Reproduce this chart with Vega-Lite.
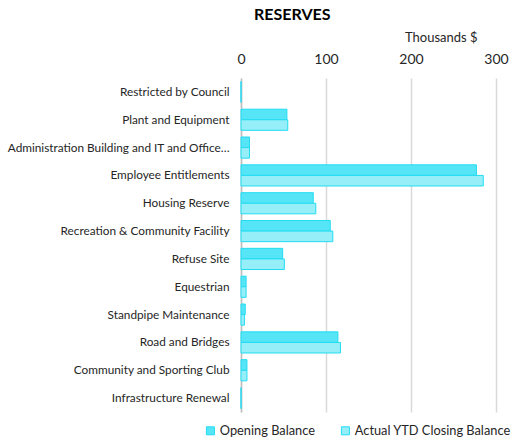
{
  "$schema": "https://vega.github.io/schema/vega-lite/v6.json",
  "width": 255,
  "height": 334,
  "autosize": {"type": "none"},
  "padding": {"left": 241, "top": 78, "right": 27, "bottom": 28},
  "background": "white",
  "title": {
    "text": "RESERVES",
    "anchor": "start",
    "frame": "group",
    "dx": 13,
    "fontSize": 16,
    "font": "Lato",
    "fontWeight": "bold",
    "color": "#000000",
    "offset": 8
  },
  "data": {
    "values": [
      {"category": "Restricted by Council", "series": "Opening  Balance", "value": 0},
      {"category": "Restricted by Council", "series": "Actual YTD Closing Balance", "value": 0},
      {"category": "Plant and Equipment", "series": "Opening  Balance", "value": 54},
      {"category": "Plant and Equipment", "series": "Actual YTD Closing Balance", "value": 55},
      {"category": "Administration Building and IT and Office…", "series": "Opening  Balance", "value": 10},
      {"category": "Administration Building and IT and Office…", "series": "Actual YTD Closing Balance", "value": 10},
      {"category": "Employee Entitlements", "series": "Opening  Balance", "value": 277},
      {"category": "Employee Entitlements", "series": "Actual YTD Closing Balance", "value": 285},
      {"category": "Housing Reserve", "series": "Opening  Balance", "value": 85},
      {"category": "Housing Reserve", "series": "Actual YTD Closing Balance", "value": 88},
      {"category": "Recreation & Community Facility", "series": "Opening  Balance", "value": 105},
      {"category": "Recreation & Community Facility", "series": "Actual YTD Closing Balance", "value": 108},
      {"category": "Refuse Site", "series": "Opening  Balance", "value": 49},
      {"category": "Refuse Site", "series": "Actual YTD Closing Balance", "value": 51},
      {"category": "Equestrian", "series": "Opening  Balance", "value": 6},
      {"category": "Equestrian", "series": "Actual YTD Closing Balance", "value": 6},
      {"category": "Standpipe Maintenance", "series": "Opening  Balance", "value": 5},
      {"category": "Standpipe Maintenance", "series": "Actual YTD Closing Balance", "value": 4},
      {"category": "Road and Bridges", "series": "Opening  Balance", "value": 114},
      {"category": "Road and Bridges", "series": "Actual YTD Closing Balance", "value": 117},
      {"category": "Community and Sporting Club", "series": "Opening  Balance", "value": 7},
      {"category": "Community and Sporting Club", "series": "Actual YTD Closing Balance", "value": 7},
      {"category": "Infrastructure Renewal", "series": "Opening  Balance", "value": 0},
      {"category": "Infrastructure Renewal", "series": "Actual YTD Closing Balance", "value": 0}
    ]
  },
  "mark": {"type": "bar", "stroke": "#22DCF2", "strokeWidth": 1},
  "encoding": {
    "y": {
      "field": "category",
      "type": "nominal",
      "sort": null,
      "scale": {"paddingInner": 0.24, "paddingOuter": 0.12},
      "axis": {
        "title": null,
        "ticks": false,
        "domain": true,
        "domainColor": "#bfbfbf",
        "domainWidth": 1.5,
        "labelFont": "Lato",
        "labelFontSize": 11.8,
        "labelColor": "#262626",
        "labelPadding": 12,
        "labelLimit": 300
      }
    },
    "yOffset": {
      "field": "series",
      "type": "nominal",
      "sort": ["Opening  Balance", "Actual YTD Closing Balance"],
      "scale": {"paddingInner": 0, "paddingOuter": 0}
    },
    "x": {
      "field": "value",
      "type": "quantitative",
      "scale": {"domain": [0, 300], "nice": false},
      "axis": {
        "orient": "top",
        "values": [0, 100, 200, 300],
        "domain": false,
        "ticks": false,
        "grid": true,
        "gridColor": "#d9d9d9",
        "gridWidth": 1.5,
        "labelFont": "Lato",
        "labelFontSize": 14,
        "labelColor": "#262626",
        "labelPadding": 12,
        "labelFlush": false,
        "title": "Thousands $",
        "titleFont": "Lato",
        "titleFontSize": 13,
        "titleFontWeight": "normal",
        "titleColor": "#262626",
        "titleAlign": "right",
        "titleAnchor": null,
        "titleX": 236,
        "titleY": -41,
        "titleBaseline": "middle"
      }
    },
    "fill": {
      "field": "series",
      "type": "nominal",
      "sort": ["Opening  Balance", "Actual YTD Closing Balance"],
      "scale": {
        "domain": ["Opening  Balance", "Actual YTD Closing Balance"],
        "range": ["#55E5F6", "#96EEF9"]
      },
      "legend": {
        "title": null,
        "orient": "none",
        "direction": "horizontal",
        "legendX": -37,
        "legendY": 346,
        "symbolType": "square",
        "symbolSize": 64,
        "symbolStrokeColor": "#22DCF2",
        "symbolStrokeWidth": 1,
        "labelFont": "Lato",
        "labelFontSize": 12.8,
        "labelColor": "#262626",
        "labelLimit": 300,
        "columnPadding": 20,
        "labelOffset": 3
      }
    }
  },
  "config": {
    "view": {"stroke": null}
  }
}
